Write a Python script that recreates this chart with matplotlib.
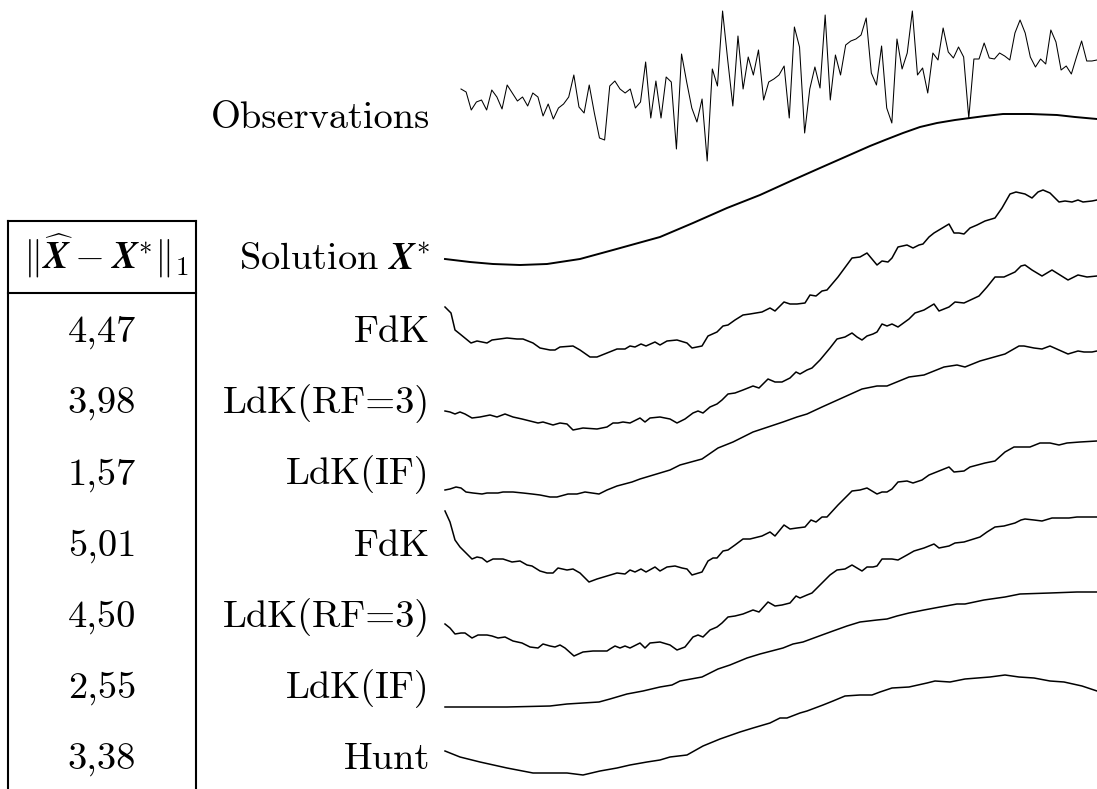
import numpy as np
import matplotlib
matplotlib.use("Agg")
import matplotlib.pyplot as plt

plt.rcParams['mathtext.fontset'] = 'cm'

# ── Data (signal heights, x = sample position) ───────────────────────────────
obs_v = [11, 8, -10, -2, 0, -10, 10, 3, -9, 15,
         7, -1, 3, -6, 7, 3, -16, -4, -19, -8,
         -4, 3, 25, -7, -13, 15, -13, -38, -40, 14,
         19, 11, 7, 11, -8, -2, 38, -18, 19, -18,
         23, 18, -49, 46, 18, -8, -22, 1, -61, 31,
         14, 89, 40, -6, 64, 11, 43, 25, 50, 0,
         18, 21, 25, 34, -18, 73, 53, -33, 11, 33,
         12, 85, 0, 45, 25, 55, 59, 61, 65, 82,
         27, 15, 54, -8, -23, 61, 31, 47, 89, 25,
         32, 7, 47, 40, 72, 48, 42, 53, 43, -18,
         41, 41, 57, 42, 41, 47, 44, 40, 67, 80,
         67, 43, 33, 41, 36, 70, 58, 30, 34, 26,
         43, 59, 39, 39, 40]
obs_t = np.linspace(16, 652, len(obs_v))

sol_t = [0, 25, 48, 75, 102, 135, 168, 215, 248, 282, 315, 348, 375, 400, 425, 440,
         458, 475, 492, 510, 525, 540, 558, 585, 612, 630, 652]
sol_v = [-59, -62, -64, -65, -64, -59, -50, -37, -23, -8, 5, 20, 32, 43, 54, 60,
         67, 73, 77, 80, 82, 84, 86, 86, 85, 83, 81]

fdk1_t = [0, 6, 10, 15, 26, 32, 42, 47, 62, 72, 78, 88, 95, 105, 110, 115, 128, 135,
          145, 152, 162, 172, 180, 185, 190, 196, 201, 210, 215, 222, 232, 242, 247,
          257, 263, 272, 278, 283, 290, 298, 305, 317, 325, 330, 339, 345, 352, 360,
          365, 371, 377, 382, 393, 407, 415, 422, 432, 437, 443, 447, 453, 462, 468,
          474, 478, 484, 489, 499, 504, 509, 514, 519, 525, 532, 540, 550, 557, 565,
          571, 580, 587, 593, 598, 605, 614, 620, 627, 633, 638, 647, 652]
fdk1_v = [-7, -13, -30, -34, -43, -41, -43, -40, -38, -39, -39, -43, -48, -50, -50,
          -47, -46, -50, -57, -57, -53, -49, -49, -46, -47, -44, -46, -42, -45, -41,
          -40, -43, -48, -46, -36, -32, -26, -25, -20, -15, -14, -12, -8, -11, -2,
          -4, -4, -3, 5, 4, 9, 10, 23, 42, 43, 47, 35, 39, 38, 42, 53, 55, 52, 55,
          56, 63, 67, 73, 76, 67, 67, 66, 72, 75, 79, 82, 92, 106, 108, 106, 102,
          108, 110, 107, 98, 99, 98, 100, 98, 99, 100]

rf1_t = [0, 5, 10, 15, 20, 27, 35, 45, 52, 60, 68, 77, 85, 93, 98, 108, 115, 122,
         128, 138, 152, 162, 168, 173, 178, 185, 195, 200, 205, 215, 225, 232, 240,
         248, 253, 258, 265, 272, 277, 283, 290, 298, 308, 314, 323, 330, 337, 345,
         351, 355, 362, 367, 375, 385, 392, 400, 407, 412, 417, 422, 428, 432, 437,
         442, 447, 453, 464, 470, 479, 489, 494, 504, 510, 519, 534, 542, 550, 559,
         570, 576, 580, 587, 597, 607, 615, 623, 633, 642, 652]
rf1_v = [-11, -12, -14, -12, -14, -18, -17, -15, -17, -14, -17, -19, -21, -23, -22,
         -25, -23, -24, -30, -28, -29, -27, -23, -23, -22, -23, -18, -22, -18, -17,
         -19, -23, -19, -13, -11, -13, -7, -4, 0, 6, 7, 10, 14, 12, 21, 18, 18, 22,
         28, 26, 30, 32, 40, 52, 61, 63, 67, 63, 60, 64, 66, 68, 76, 74, 76, 73, 81,
         87, 90, 96, 89, 93, 98, 97, 104, 113, 123, 123, 128, 134, 135, 130, 124,
         130, 125, 120, 125, 123, 124]

if1_t = [0, 5, 11, 16, 21, 28, 37, 42, 48, 53, 58, 68, 78, 87, 95, 105, 112, 123,
         132, 140, 147, 154, 162, 172, 187, 195, 205, 215, 225, 235, 257, 273, 288,
         308, 338, 352, 362, 377, 397, 417, 432, 442, 464, 479, 499, 512, 520, 535,
         560, 574, 579, 589, 597, 605, 614, 623, 633, 639, 647, 652]
if1_v = [-40, -39, -37, -38, -42, -43, -44, -43, -43, -43, -42, -42, -43, -44, -45,
         -47, -47, -44, -44, -42, -43, -44, -40, -36, -32, -29, -26, -23, -20, -15,
         -9, 2, 8, 18, 28, 33, 36, 43, 52, 61, 64, 64, 73, 75, 83, 85, 83, 89, 96,
         104, 104, 102, 101, 104, 100, 96, 99, 98, 98, 99]

fdk2_t = [0, 5, 10, 15, 20, 27, 32, 37, 42, 48, 58, 67, 75, 82, 87, 95, 102, 108,
          113, 122, 128, 135, 144, 152, 162, 172, 180, 185, 190, 196, 201, 210, 215,
          222, 230, 237, 242, 247, 257, 263, 268, 272, 278, 283, 290, 298, 305, 317,
          325, 330, 339, 345, 352, 360, 366, 371, 377, 382, 393, 407, 415, 422, 432,
          437, 442, 447, 453, 462, 468, 477, 484, 494, 504, 509, 519, 525, 540, 550,
          560, 569, 585, 595, 605, 614, 622, 635, 652]
fdk2_v = [39, 28, 10, 3, -2, -9, -7, -8, -12, -9, -9, -12, -11, -15, -16, -21, -23,
          -23, -18, -20, -19, -23, -32, -29, -26, -23, -24, -20, -22, -19, -22, -17,
          -21, -17, -16, -18, -19, -25, -22, -11, -8, -8, -1, 0, 5, 11, 11, 14, 18,
          14, 25, 21, 22, 23, 30, 28, 33, 33, 45, 59, 60, 62, 56, 58, 58, 61, 68, 69,
          67, 70, 75, 79, 83, 78, 79, 83, 87, 89, 98, 103, 103, 107, 107, 105, 107,
          108, 109]

rf2_t = [0, 5, 10, 16, 20, 27, 33, 42, 47, 53, 60, 68, 77, 85, 93, 98, 105, 110, 115,
         120, 129, 138, 148, 162, 165, 170, 175, 180, 185, 195, 200, 205, 215, 225,
         232, 240, 248, 253, 258, 265, 272, 277, 283, 290, 298, 308, 314, 323, 330,
         337, 345, 351, 355, 362, 367, 375, 385, 392, 400, 407, 412, 417, 422, 428,
         432, 437, 442, 447, 453, 462, 469, 479, 489, 494, 504, 510, 519, 535, 542,
         550, 559, 570, 576, 580, 589, 597, 607, 624, 632, 652]
rf2_v = [-24, -28, -34, -33, -33, -38, -35, -35, -36, -38, -37, -41, -43, -47, -48,
         -44, -46, -47, -45, -48, -56, -52, -51, -51, -49, -46, -48, -46, -48, -43,
         -48, -43, -42, -45, -50, -47, -37, -35, -37, -30, -27, -23, -17, -16, -14,
         -10, -12, -2, -6, -5, -3, 4, 2, 5, 7, 15, 25, 30, 31, 35, 32, 29, 33, 33, 34,
         41, 41, 41, 40, 45, 49, 52, 56, 52, 54, 57, 58, 63, 68, 73, 74, 77, 80, 81,
         80, 79, 82, 82, 83, 83]

if2_t = [0, 28, 62, 105, 122, 138, 154, 165, 182, 198, 215, 227, 235, 257, 265, 273,
         285, 302, 315, 338, 348, 358, 377, 388, 402, 415, 432, 442, 452, 464, 479,
         495, 512, 520, 539, 560, 575, 605, 632, 652]
if2_v = [-7, -7, -7, -6, -4, -3, -2, 1, 6, 9, 13, 15, 19, 23, 27, 31, 35, 42, 46, 52,
         56, 58, 65, 69, 74, 78, 80, 81, 84, 87, 90, 93, 96, 96, 100, 103, 106, 107,
         108, 108]

hunt_t = [0, 15, 35, 62, 88, 105, 122, 138, 155, 172, 185, 202, 215, 225, 242, 258,
          275, 295, 308, 325, 335, 342, 355, 362, 378, 388, 400, 415, 427, 435, 447,
          464, 482, 490, 505, 520, 545, 560, 574, 589, 605, 619, 637, 652]
hunt_v = [-1, -7, -12, -18, -23, -23, -23, -25, -21, -18, -15, -12, -10, -7, -5, 4,
          11, 18, 22, 27, 32, 32, 37, 39, 45, 49, 54, 55, 55, 58, 62, 63, 67, 69, 68,
          71, 73, 75, 73, 72, 69, 68, 64, 59]

methods = ['FdK', 'LdK(RF=3)', 'LdK(IF)', 'FdK', 'LdK(RF=3)', 'LdK(IF)', 'Hunt']
errors = ['4,47', '3,98', '1,57', '5,01', '4,50', '2,55', '3,38']

# ── Layout (pixels) ─────────────────────────────────────────────────────────
W, H = 1097, 789
SIG_X0 = 445
FS = 27.7
LABEL_X = 430
ROW0, ROW_STEP = 342, 71.2
CM = 'cmr10'

fig = plt.figure(figsize=(W / 100, H / 100), dpi=100)
ax = fig.add_axes([0, 0, 1, 1])
ax.set_xlim(0, W)
ax.set_ylim(H, 0)
ax.axis('off')

sig = fig.add_axes([SIG_X0 / W, 0, (W - SIG_X0) / W, 1])
sig.set_xlim(0, W - SIG_X0)
sig.set_ylim(-H, 0)
sig.axis('off')

# curves: (t, v, vertical reference, line width)
curves = [
    (obs_t, obs_v, 100, 0.75),
    (sol_t, sol_v, 200, 1.4),
    (fdk1_t, fdk1_v, 300, 1.1),
    (rf1_t, rf1_v, 400, 1.1),
    (if1_t, if1_v, 450, 1.1),
    (fdk2_t, fdk2_v, 550, 1.1),
    (rf2_t, rf2_v, 600, 1.1),
    (if2_t, if2_v, 700, 1.1),
    (hunt_t, hunt_v, 750, 1.1),
]
for t, v, ref, lw in curves:
    sig.plot(t, np.asarray(v) - ref, color='black', lw=lw,
             solid_joinstyle='round', clip_on=False)

# labels
ax.text(LABEL_X, 128, 'Observations', ha='right', va='baseline',
        fontsize=FS, family=CM)
ax.text(LABEL_X, 270, r'$\mathrm{Solution}\ \mathbfit{X}^{*}$', ha='right',
        va='baseline', fontsize=FS)
for i, (m, e) in enumerate(zip(methods, errors)):
    yb = ROW0 + i * ROW_STEP
    ax.text(LABEL_X, yb, m, ha='right', va='baseline', fontsize=FS, family=CM)
    ax.text(102, yb, e, ha='center', va='baseline', fontsize=FS, family=CM)

# table
TL, TR, TT, TH = 7.5, 196, 221, 293
ax.plot([TL, TL], [TT, H + 5], color='black', lw=1.5, clip_on=False)
ax.plot([TR, TR], [TT, H + 5], color='black', lw=1.5, clip_on=False)
ax.plot([TL, TR], [TT, TT], color='black', lw=1.5, solid_capstyle='projecting')
ax.plot([TL, TR], [TH, TH], color='black', lw=1.5, solid_capstyle='projecting')
ax.text(106, 269, r'$\|\widehat{\mathbfit{X}}-\mathbfit{X}^{*}\|_1$',
        ha='center', va='baseline', fontsize=FS)

fig.savefig('out.png', dpi=100, facecolor='white')
